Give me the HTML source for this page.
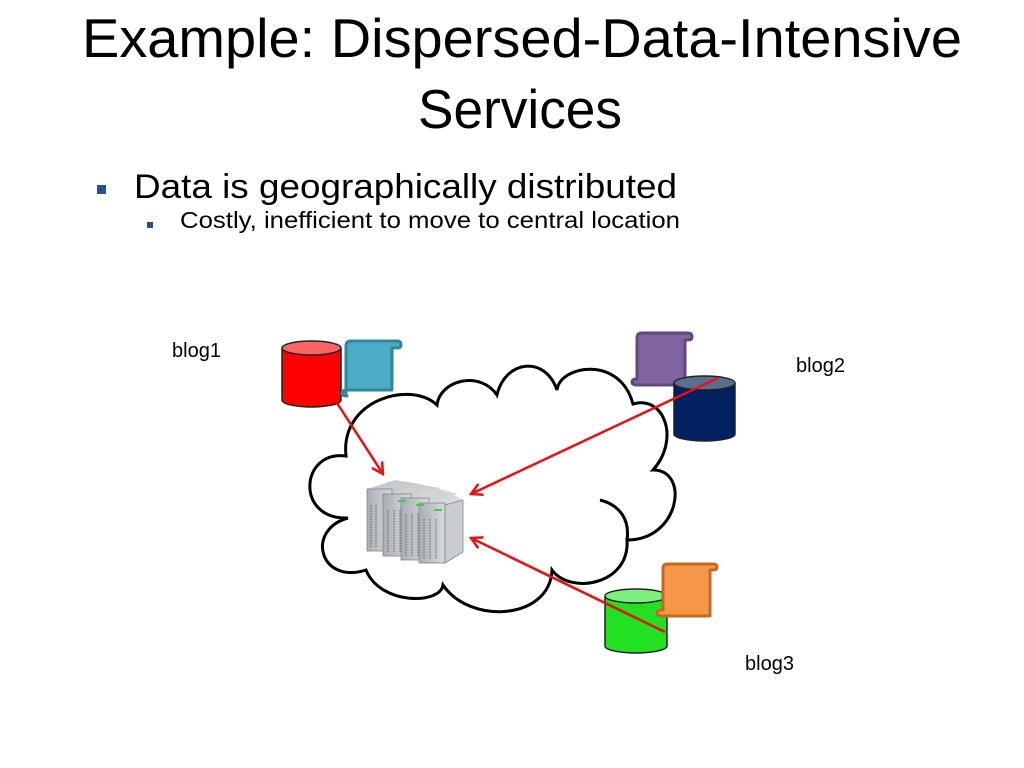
<!DOCTYPE html>
<html><head><meta charset="utf-8"><style>
html,body{margin:0;padding:0;background:#fff;}
svg{display:block;}
text{font-family:"Liberation Sans",sans-serif;fill:#000;}
</style></head><body>
<svg width="1024" height="768" viewBox="0 0 1024 768" xmlns="http://www.w3.org/2000/svg">
<defs>
<marker id="ah" markerWidth="14" markerHeight="14" refX="12" refY="7" orient="auto" markerUnits="userSpaceOnUse">
<path d="M1,1 L12,7 L1,13" fill="none" stroke="#e81010" stroke-width="2.5"/>
</marker>
<linearGradient id="srv" x1="0" y1="0" x2="1" y2="0">
<stop offset="0" stop-color="#a9aeb3"/><stop offset="1" stop-color="#d8dbde"/>
</linearGradient>
</defs>

<text x="82" y="57" font-size="55" textLength="880" lengthAdjust="spacingAndGlyphs">Example: Dispersed-Data-Intensive</text>
<text x="418" y="128" font-size="55" textLength="204" lengthAdjust="spacingAndGlyphs">Services</text>

<rect x="97" y="185" width="9" height="9" fill="#2a4f8c"/>
<text x="134" y="198" font-size="34" textLength="543" lengthAdjust="spacingAndGlyphs">Data is geographically distributed</text>
<rect x="147" y="222" width="6" height="6" fill="#2a4f8c"/>
<text x="180" y="228" font-size="23" textLength="500" lengthAdjust="spacingAndGlyphs">Costly, inefficient to move to central location</text>

<!-- cloud -->
<path d="M346,456 C300,450 295,520 348,518 C305,530 320,585 366,570 C380,605 440,605 443,585 C470,625 550,620 552,570 C570,595 630,585 627,540 C680,540 690,470 653,470 C680,440 665,395 633,404 C620,355 560,365 557,390 C545,355 505,360 497,395 C480,370 440,380 437,405 C410,380 340,400 346,456 Z" fill="#fff" stroke="#000" stroke-width="3"/>
<path d="M600,500 C620,505 630,520 627,540" fill="none" stroke="#000" stroke-width="3"/>

<!-- server -->
<g>
<polygon points="367,489 395,480 420,484 392,494" fill="#c8cbce"/>
<polygon points="390,494 418,484 440,488 412,498" fill="#cdd0d3"/>
<polygon points="408,498 436,488 458,494 430,502" fill="#d2d5d8"/>
<polygon points="428,503 452,494 463,500 463,505 445,510" fill="#d6d9dc"/>
<rect x="367" y="489" width="25" height="62" fill="url(#srv)" stroke="#80868c" stroke-width="0.8"/>
<rect x="383" y="494" width="28" height="62" fill="url(#srv)" stroke="#80868c" stroke-width="0.8"/>
<rect x="401" y="498" width="28" height="62" fill="url(#srv)" stroke="#80868c" stroke-width="0.8"/>
<rect x="419" y="503" width="26" height="60" fill="url(#srv)" stroke="#80868c" stroke-width="0.8"/>
<polygon points="445,505 463,500 463,552 445,563" fill="#c9ccd0" stroke="#80868c" stroke-width="0.8"/>
<g stroke="#6d737a" stroke-width="1.2" stroke-dasharray="1.5,1.2">
<line x1="371" y1="505" x2="371" y2="548"/><line x1="376" y1="505" x2="376" y2="548"/>
<line x1="388" y1="510" x2="388" y2="552"/><line x1="394" y1="510" x2="394" y2="552"/><line x1="400" y1="510" x2="400" y2="552"/>
<line x1="406" y1="514" x2="406" y2="556"/><line x1="412" y1="514" x2="412" y2="556"/><line x1="418" y1="514" x2="418" y2="556"/>
<line x1="424" y1="519" x2="424" y2="559"/><line x1="430" y1="519" x2="430" y2="559"/><line x1="436" y1="519" x2="436" y2="559"/>
</g>
<rect x="398" y="500" width="8" height="2" fill="#4c4"/><rect x="416" y="504" width="8" height="2" fill="#4c4"/><rect x="434" y="509" width="8" height="2" fill="#4c4"/>
</g>

<!-- blog1 -->
<path d="M282,348 V400 A29.5,7 0 0 0 341,400 V348" fill="#ff0000" stroke="#222" stroke-width="1.5"/>
<ellipse cx="311.5" cy="348" rx="29.5" ry="7" fill="#ff6464" stroke="#222" stroke-width="1.5"/>
<path d="M346,346 Q346,341 351,341 H397 Q401,341 401,345 Q401,348 397,348 H392 V390 H347 Q342,390 342,393 Q342,396 347,396 H346 Z" fill="#4bacc6" stroke="#31859c" stroke-width="3" stroke-linejoin="round"/>

<!-- blog2 -->
<path d="M637,338 Q637,333 642,333 H688 Q692,333 692,337 Q692,340 688,340 H685 V385 H637 Q632,385 632,382 Q632,379 637,379 Z" fill="#8064a2" stroke="#5f4a7b" stroke-width="3" stroke-linejoin="round"/>
<path d="M674,383 V434 A30.5,7 0 0 0 735,434 V383" fill="#002060" stroke="#222" stroke-width="1.5"/>
<ellipse cx="704.5" cy="383" rx="30.5" ry="7" fill="#5a6f90" stroke="#222" stroke-width="1.5"/>

<!-- blog3 -->
<path d="M605,596 V646 A31,7 0 0 0 667,646 V596" fill="#22e022" stroke="#222" stroke-width="1.5"/>
<ellipse cx="636" cy="596" rx="31" ry="7" fill="#7ef07e" stroke="#222" stroke-width="1.5"/>
<path d="M663,568 Q663,564 668,564 H713 Q717,564 717,567 Q717,570 713,570 H710 V616 H663 Q657,616 657,613 Q657,610 663,610 Z" fill="#f79646" stroke="#c26a25" stroke-width="3" stroke-linejoin="round"/>

<!-- arrows -->
<line x1="337" y1="403" x2="383" y2="474" stroke="#e81010" stroke-width="2.5" marker-end="url(#ah)"/>
<line x1="718" y1="378" x2="471" y2="494" stroke="#e81010" stroke-width="2.5" marker-end="url(#ah)"/>
<line x1="665" y1="632" x2="471" y2="538" stroke="#e81010" stroke-width="2.5" marker-end="url(#ah)"/>

<text x="172" y="357" font-size="20">blog1</text>
<text x="796" y="372" font-size="20">blog2</text>
<text x="745" y="670" font-size="20">blog3</text>
</svg>
</body></html>
